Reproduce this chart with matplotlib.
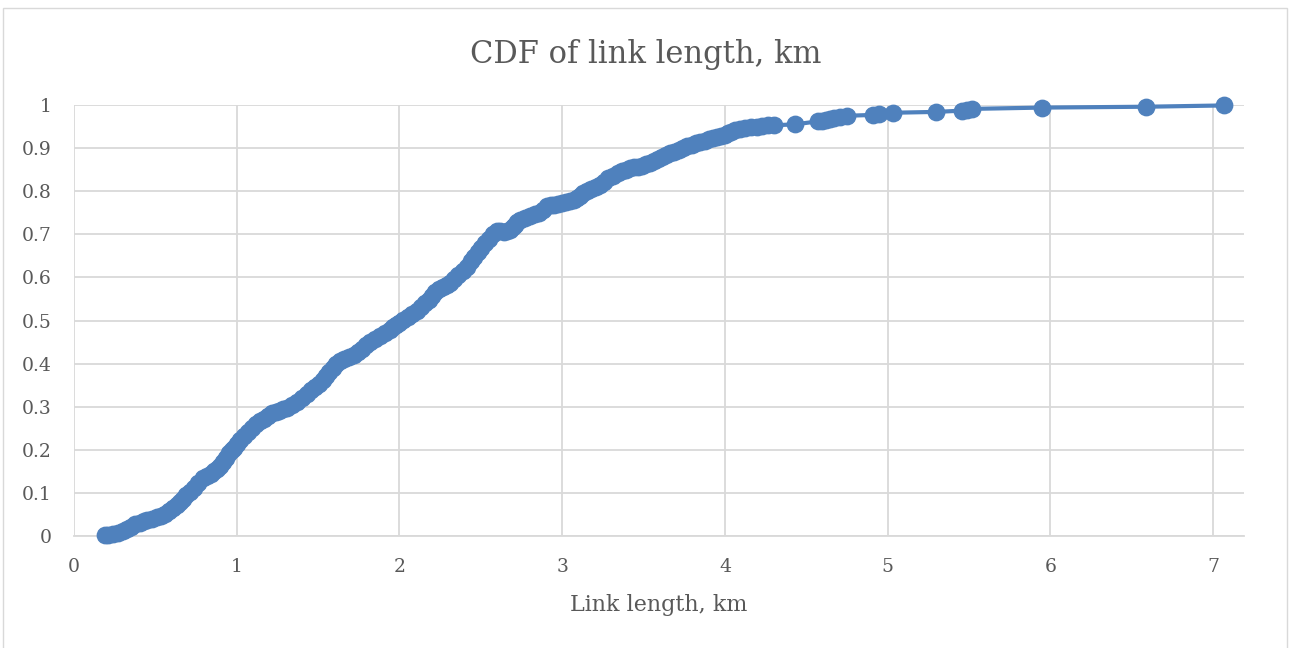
import matplotlib
matplotlib.use("Agg")
import matplotlib.pyplot as plt
from matplotlib.patches import Rectangle

link_length_km = [
    0.19, 0.21, 0.24, 0.27, 0.30, 0.325, 0.35, 0.375, 0.405, 0.43, 0.45, 0.48, 0.51, 0.535, 0.56,
    0.585, 0.61, 0.63, 0.65, 0.67, 0.69, 0.715, 0.74, 0.765, 0.795, 0.815, 0.84, 0.86, 0.88, 0.90,
    0.915, 0.935, 0.95, 0.97, 0.985, 1.00, 1.02, 1.045, 1.07, 1.095, 1.12, 1.145, 1.17, 1.19,
    1.215, 1.24, 1.26, 1.285, 1.31, 1.34, 1.37, 1.40, 1.43, 1.455, 1.48, 1.505, 1.53, 1.55, 1.57,
    1.59, 1.61, 1.635, 1.66, 1.69, 1.72, 1.745, 1.77, 1.795, 1.82, 1.85, 1.88, 1.91, 1.94, 1.96,
    1.98, 2.00, 2.02, 2.05, 2.08, 2.105, 2.13, 2.155, 2.18, 2.20, 2.22, 2.245, 2.27, 2.29, 2.31,
    2.335, 2.36, 2.39, 2.415, 2.44, 2.46, 2.48, 2.50, 2.525, 2.55, 2.575, 2.60, 2.62, 2.64, 2.66,
    2.68, 2.695, 2.71, 2.725, 2.74, 2.77, 2.80, 2.83, 2.86, 2.88, 2.905, 2.93, 2.95, 2.975, 3.0,
    3.025, 3.05, 3.07, 3.09, 3.11, 3.13, 3.155, 3.18, 3.205, 3.23, 3.255, 3.28, 3.31, 3.34, 3.365,
    3.39, 3.415, 3.44, 3.465, 3.49, 3.515, 3.54, 3.565, 3.59, 3.615, 3.64, 3.665, 3.69, 3.715,
    3.74, 3.77, 3.80, 3.825, 3.85, 3.875, 3.90, 3.925, 3.95, 3.975, 4.0, 4.02, 4.04, 4.065, 4.09,
    4.125, 4.16, 4.195, 4.23, 4.265, 4.30, 4.43, 4.57, 4.595, 4.62, 4.645, 4.67, 4.71, 4.75,
    4.91, 4.95, 5.03, 5.30, 5.46, 5.49, 5.52, 5.95, 6.59, 7.07]
cdf_values = [
    0.002, 0.003, 0.005, 0.008, 0.012, 0.017, 0.022, 0.027, 0.031, 0.034, 0.036, 0.039, 0.043,
    0.047, 0.052, 0.058, 0.064, 0.071, 0.078, 0.086, 0.094, 0.103, 0.112, 0.123, 0.135, 0.140,
    0.145, 0.150, 0.155, 0.163, 0.172, 0.182, 0.192, 0.199, 0.205, 0.213, 0.222, 0.232, 0.242,
    0.251, 0.259, 0.266, 0.272, 0.279, 0.285, 0.288, 0.290, 0.294, 0.298, 0.303, 0.310, 0.320,
    0.330, 0.338, 0.345, 0.353, 0.362, 0.371, 0.380, 0.390, 0.400, 0.405, 0.410, 0.415, 0.420,
    0.427, 0.435, 0.443, 0.451, 0.458, 0.465, 0.472, 0.479, 0.485, 0.490, 0.495, 0.501, 0.508,
    0.515, 0.523, 0.532, 0.540, 0.548, 0.557, 0.566, 0.572, 0.578, 0.583, 0.588, 0.596, 0.605,
    0.615, 0.625, 0.637, 0.648, 0.658, 0.668, 0.679, 0.690, 0.700, 0.708, 0.707, 0.706, 0.707,
    0.710, 0.716, 0.722, 0.728, 0.733, 0.738, 0.742, 0.746, 0.749, 0.756, 0.765, 0.767, 0.768,
    0.770, 0.772, 0.775, 0.777, 0.780, 0.784, 0.789, 0.795, 0.800, 0.805, 0.810, 0.815, 0.822,
    0.830, 0.836, 0.842, 0.846, 0.850, 0.853, 0.855, 0.857, 0.858, 0.862, 0.866, 0.870, 0.875,
    0.880, 0.884, 0.888, 0.892, 0.896, 0.900, 0.904, 0.908, 0.911, 0.914, 0.917, 0.920, 0.923,
    0.926, 0.928, 0.930, 0.934, 0.937, 0.941, 0.945, 0.947, 0.948, 0.950, 0.952, 0.953, 0.953,
    0.955, 0.962, 0.964, 0.966, 0.968, 0.970, 0.972, 0.975, 0.977, 0.978, 0.982, 0.984, 0.987,
    0.989, 0.991, 0.994, 0.996, 0.999]
x_ticks = [0, 1, 2, 3, 4, 5, 6, 7]
x_tick_labels = ["0", "1", "2", "3", "4", "5", "6", "7"]
y_ticks = [0, 0.1, 0.2, 0.3, 0.4, 0.5, 0.6, 0.7, 0.8, 0.9, 1]
y_tick_labels = ["0", "0.1", "0.2", "0.3", "0.4", "0.5", "0.6", "0.7", "0.8", "0.9", "1"]

FONT = "DejaVu Serif"
TEXT_COLOR = "#595959"
GRID_COLOR = "#d9d9d9"
SERIES_COLOR = "#4f81bd"

fig = plt.figure(figsize=(12.9, 6.48), dpi=100)
fig.patch.set_facecolor("white")
fig.patches.append(Rectangle((3 / 1290, -0.01), 1284 / 1290, 1 - 8 / 648 + 0.01,
                             transform=fig.transFigure, fill=False,
                             edgecolor=GRID_COLOR, linewidth=1.0))

ax = fig.add_axes([74 / 1290, 1 - 536 / 648, (1244 - 74) / 1290, (536 - 105) / 648])
ax.set_xlim(0, 7.19)
ax.set_ylim(0, 1)

ax.plot(link_length_km, cdf_values, color=SERIES_COLOR, linewidth=3.0, marker="o",
        markersize=11.8, markerfacecolor=SERIES_COLOR, markeredgecolor=SERIES_COLOR,
        clip_on=False, zorder=3)

ax.set_xticks(x_ticks)
ax.set_xticklabels(x_tick_labels)
ax.set_yticks(y_ticks)
ax.set_yticklabels(y_tick_labels)
ax.grid(True, color=GRID_COLOR, linewidth=1.3, zorder=0)
ax.set_axisbelow(True)
for side in ["top", "right", "left"]:
    ax.spines[side].set_visible(False)
ax.spines["bottom"].set_color(GRID_COLOR)
ax.spines["bottom"].set_linewidth(1.3)
ax.tick_params(axis="both", length=0, labelsize=13.5, labelcolor=TEXT_COLOR)
ax.tick_params(axis="x", pad=16)
ax.tick_params(axis="y", pad=16)
for lbl in ax.get_xticklabels() + ax.get_yticklabels():
    lbl.set_fontfamily(FONT)

ax.set_xlabel("Link length, km", fontsize=16, color=TEXT_COLOR, fontfamily=FONT, labelpad=13)
fig.text(646 / 1290, 1 - 54 / 648, "CDF of link length, km",
         ha="center", va="center", fontsize=22, color=TEXT_COLOR, fontfamily=FONT)

fig.savefig("out.png", dpi=100, facecolor="white")
